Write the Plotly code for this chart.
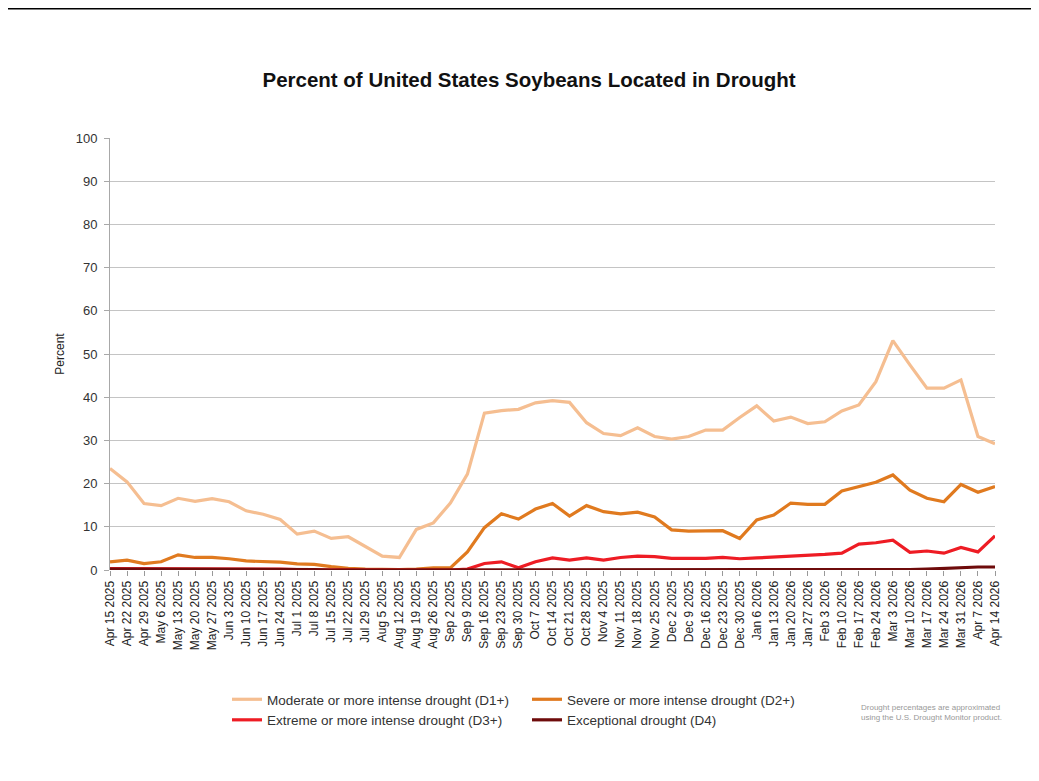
import plotly.graph_objects as go

weeks = ["Apr 15 2025", "Apr 22 2025", "Apr 29 2025", "May 6 2025", "May 13 2025", "May 20 2025",
         "May 27 2025", "Jun 3 2025", "Jun 10 2025", "Jun 17 2025", "Jun 24 2025", "Jul 1 2025",
         "Jul 8 2025", "Jul 15 2025", "Jul 22 2025", "Jul 29 2025", "Aug 5 2025", "Aug 12 2025",
         "Aug 19 2025", "Aug 26 2025", "Sep 2 2025", "Sep 9 2025", "Sep 16 2025", "Sep 23 2025",
         "Sep 30 2025", "Oct 7 2025", "Oct 14 2025", "Oct 21 2025", "Oct 28 2025", "Nov 4 2025",
         "Nov 11 2025", "Nov 18 2025", "Nov 25 2025", "Dec 2 2025", "Dec 9 2025", "Dec 16 2025",
         "Dec 23 2025", "Dec 30 2025", "Jan 6 2026", "Jan 13 2026", "Jan 20 2026", "Jan 27 2026",
         "Feb 3 2026", "Feb 10 2026", "Feb 17 2026", "Feb 24 2026", "Mar 3 2026", "Mar 10 2026",
         "Mar 17 2026", "Mar 24 2026", "Mar 31 2026", "Apr 7 2026", "Apr 14 2026"]

d1 = [23.5, 20.4, 15.4, 14.9, 16.6, 15.9, 16.5, 15.8, 13.7, 12.9, 11.7, 8.3,
      9.0, 7.3, 7.7, 5.4, 3.2, 2.9, 9.4, 10.9, 15.5, 22.2, 36.3, 36.9,
      37.2, 38.7, 39.2, 38.8, 34.1, 31.6, 31.1, 32.9, 30.9, 30.3, 30.9, 32.4,
      32.4, 35.3, 38.0, 34.5, 35.4, 33.9, 34.3, 36.8, 38.2, 43.6, 53.1, 47.5,
      42.1, 42.1, 44.0, 30.9, 29.2]

d2 = [1.9, 2.3, 1.5, 1.9, 3.5, 2.9, 2.9, 2.6, 2.1, 2.0, 1.8, 1.4,
      1.3, 0.8, 0.4, 0.2, 0.1, 0.1, 0.2, 0.5, 0.5, 4.2, 9.8, 13.0,
      11.8, 14.1, 15.4, 12.5, 14.9, 13.5, 13.0, 13.4, 12.3, 9.3, 9.0, 9.0,
      9.1, 7.3, 11.6, 12.7, 15.5, 15.2, 15.2, 18.3, 19.3, 20.3, 22.0, 18.5,
      16.6, 15.8, 19.8, 18.0, 19.3]

d3 = [0.3, 0.3, 0.3, 0.3, 0.3, 0.3, 0.3, 0.2, 0.2, 0.2, 0.2, 0.1,
      0.1, 0.1, 0.0, 0.0, 0.0, 0.0, 0.0, 0.0, 0.0, 0.2, 1.5, 1.9,
      0.5, 1.9, 2.8, 2.3, 2.8, 2.3, 2.9, 3.2, 3.1, 2.7, 2.7, 2.7,
      2.9, 2.6, 2.8, 3.0, 3.2, 3.3, 3.6, 3.9, 6.0, 6.3, 6.9, 4.1,
      4.4, 3.9, 5.2, 4.2, 7.9]

d4 = [0.2, 0.2, 0.2, 0.2, 0.2, 0.2, 0.2, 0.2, 0.1, 0.1, 0.1, 0.1,
      0.1, 0.0, 0.0, 0.0, 0.0, 0.0, 0.0, 0.0, 0.0, 0.0, 0.0, 0.0,
      0.0, 0.0, 0.0, 0.0, 0.0, 0.0, 0.0, 0.0, 0.0, 0.0, 0.0, 0.0,
      0.0, 0.0, 0.0, 0.0, 0.0, 0.0, 0.0, 0.0, 0.0, 0.0, 0.0, 0.1,
      0.2, 0.4, 0.6, 0.7, 0.7]

names = ["Moderate or more intense drought (D1+)", "Severe or more intense drought (D2+)",
         "Extreme or more intense drought (D3+)", "Exceptional drought (D4)"]
colors = ["#F5BE91", "#E07A1F", "#EE1C24", "#6E0B0B"]
series = [d1, d2, d3, d4]

xidx = list(range(len(weeks)))

# page has an 8px body margin; compensate so the plot lands where the reference has it
OFF = 8
W, H = 1039 - OFF, 781 - OFF
L, T = 110 - OFF, 138 - OFF
PW, PH = 885, 432
R = W - L - PW
B = H - T - PH

fig = go.Figure()
for nm, col, vals in zip(names, colors, series):
    fig.add_trace(go.Scatter(x=xidx, y=vals, mode="lines", name=nm,
                             line=dict(color=col, width=3.2), cliponaxis=False))

fig.update_layout(
    width=W, height=H,
    margin=dict(l=L, r=R, t=T, b=B),
    paper_bgcolor="white", plot_bgcolor="white",
    font=dict(family="Liberation Sans, Arial, sans-serif", color="#222"),
    title=dict(text="<b>Percent of United States Soybeans Located in Drought</b>",
               x=(529 - 110) / PW, xref="paper", xanchor="center",
               y=1 - (80 - OFF) / H, yanchor="middle",
               font=dict(size=20.5, color="#111")),
    showlegend=True,
    legend=dict(orientation="h", x=(227 - 110) / PW, xanchor="left",
                y=-(684 - 570) / PH, yanchor="top",
                entrywidth=255, entrywidthmode="pixels",
                font=dict(family="Liberation Sans, Arial", size=13.5, color="#333"),
                tracegroupgap=0, itemwidth=30),
)

fig.update_xaxes(range=[0, len(weeks) - 1], tickmode="array", tickvals=xidx, ticktext=weeks,
                 tickangle=-90, tickfont=dict(size=12, color="#222"),
                 showgrid=False, zeroline=False, showline=False,
                 ticks="outside", ticklen=5, tickcolor="#999")
fig.update_yaxes(range=[0, 100], dtick=10, showgrid=True, gridcolor="#c4c4c4", gridwidth=1,
                 zeroline=False, showline=True, linecolor="#a8a8a8", linewidth=1,
                 ticks="outside", ticklen=5, tickcolor="#a8a8a8", ticklabelstandoff=4,
                 tickfont=dict(size=13, color="#333"),
                 title=dict(text="Percent", font=dict(size=12, color="#222"), standoff=8))

fig.add_shape(type="line", xref="paper", yref="paper",
              x0=(0 - 110) / PW, x1=(1039 - 110) / PW,
              y0=1 + (138 - 8) / PH, y1=1 + (138 - 8) / PH,
              line=dict(color="black", width=3))

fig.add_annotation(text="Drought percentages are approximated<br>using the U.S. Drought Monitor product.",
                   xref="paper", yref="paper", x=(1004 - 110) / PW, y=-(701 - 570) / PH,
                   xanchor="right", yanchor="top", showarrow=False, align="left",
                   font=dict(size=8, color="#999"))

fig.write_html("out.html")
